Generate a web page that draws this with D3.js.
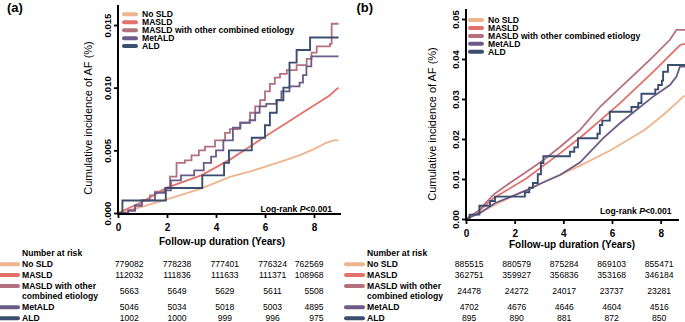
<!DOCTYPE html>
<html><head><meta charset="utf-8">
<script src="https://cdn.jsdelivr.net/npm/d3@7"></script>
<style>
body{margin:0;background:#fff}
svg{display:block}
text{font-family:"Liberation Sans",Arial,Helvetica,sans-serif;fill:#000}
</style>
</head><body>
<svg id="chart" width="685" height="322"></svg>
<script>
// ---------------- data ----------------
const groups = ["No SLD","MASLD","MASLD with other combined etiology","MetALD","ALD"];
const tableLabels = [["No SLD"],["MASLD"],["MASLD with other","combined etiology"],["MetALD"],["ALD"]];
const colors = ["#EDB48E","#E2716C","#B4707E","#6C5A88","#3A4E6E"];
const xTicks = [0,2,4,6,8];
const yTicksA = [0,0.005,0.010,0.015];
const yTicksB = [0,0.01,0.02,0.03,0.04,0.05];
const riskTimes = [0,2,4,6,8];
const panelLabels = ["(a)","(b)"];
const pText = "Log-rank ";

// Panel (a) cumulative incidence, [years, value]
const aNoSLD = [[0,0],[1,0.0005],[1.93,0.00104],[3.33,0.0019],[4.6,0.0029],[5.37,0.0033],[6.5,0.0040],[7.4,0.0046],[8.0,0.0051],[8.5,0.0056],[8.8,0.0058],[9.0,0.0058]];
const aMASLD = [[0,0],[1,0.0009],[1.97,0.0020],[3.4,0.0030],[4.6,0.0043],[5.93,0.0060],[7.29,0.0077],[8.65,0.0094],[8.93,0.0099],[9.0,0.0100]];
const aOther = [[0,0],[0.42,0.0002],[0.7,0.0006],[0.97,0.0010],[1.3,0.0014],[1.51,0.0017],[1.92,0.0020],[2.12,0.0029],[2.39,0.0040],[2.73,0.0042],[3.0,0.0046],[3.3,0.0050],[3.55,0.0053],[3.96,0.0058],[4.37,0.0064],[4.57,0.0067],[4.98,0.0072],[5.39,0.0080],[5.6,0.0085],[5.8,0.0090],[6.0,0.0097],[6.2,0.0103],[6.4,0.0108],[6.61,0.0111],[6.89,0.0114],[7.29,0.0118],[7.7,0.0123],[7.9,0.0128],[8.11,0.0133],[8.65,0.0135],[8.72,0.0151],[9.0,0.0151]];
const aMetALD = [[0,0],[0.42,0.0002],[0.7,0.0006],[0.97,0.0010],[1.51,0.0016],[1.92,0.0018],[2.16,0.0026],[2.57,0.0030],[3.11,0.0034],[3.5,0.0040],[3.8,0.0045],[4.0,0.0050],[4.3,0.0058],[4.69,0.0068],[5.0,0.0072],[5.37,0.0074],[5.6,0.0080],[5.78,0.0085],[6.05,0.0087],[6.46,0.0090],[6.67,0.0097],[7.0,0.0101],[7.41,0.0104],[7.55,0.0110],[7.69,0.0117],[7.89,0.0125],[9.0,0.0125]];
const aALD = [[0,0],[0.18,0.001],[1.95,0.002],[3.44,0.003],[4.33,0.004],[4.53,0.005],[5.46,0.006],[6.0,0.007],[6.2,0.008],[6.48,0.009],[6.75,0.010],[7.0,0.012],[7.29,0.013],[7.84,0.014],[9.0,0.014]];

// Panel (b)
const bNoSLD = [[0,0],[0.92,0.0027],[1.88,0.0056],[3.24,0.0093],[4.61,0.0131],[5.98,0.0173],[7.35,0.0223],[8.2,0.0265],[8.95,0.0307],[9.0,0.0308]];
const bMASLD = [[0,0],[0.5,0.0018],[1.13,0.0052],[2.49,0.0102],[3.86,0.0164],[4.82,0.0210],[6.32,0.0289],[7.69,0.0368],[8.8,0.0435],[9.0,0.0438]];
const bOther = [[0,0],[0.5,0.0020],[1.13,0.0061],[1.8,0.0090],[2.49,0.0118],[3.2,0.0148],[3.86,0.0180],[4.68,0.0222],[5.5,0.0280],[6.32,0.0327],[7.0,0.0366],[7.69,0.0406],[8.38,0.0448],[8.65,0.0473],[9.0,0.0473]];
const bMetALD = [[0,0],[0.58,0.0015],[1.2,0.0040],[1.81,0.0055],[2.5,0.0072],[3.18,0.0092],[3.86,0.0110],[4.68,0.0141],[5.64,0.0202],[6.3,0.0238],[7.01,0.0273],[7.69,0.0306],[8.38,0.0335],[8.65,0.0356],[8.79,0.0381],[9.0,0.0381]];
const bALD = [[0,0],[0.15,0.0011],[0.55,0.0033],[0.99,0.0045],[1.19,0.0056],[2.42,0.0067],[2.6,0.0078],[2.75,0.0090],[2.95,0.0112],[3.08,0.0140],[3.18,0.0157],[4.27,0.0168],[4.45,0.0179],[4.6,0.0202],[5.4,0.0213],[5.5,0.0235],[5.6,0.0246],[5.91,0.0268],[6.8,0.0280],[7.08,0.0290],[7.21,0.0313],[7.78,0.0324],[7.9,0.0335],[8.05,0.0346],[8.1,0.0368],[8.3,0.0385],[9.0,0.0385]];

// Number at risk
const riskA = [[779082,778238,777401,776324,762569],[112032,111836,111633,111371,108968],[5663,5649,5629,5611,5508],[5046,5034,5018,5003,4895],[1002,1000,999,996,975]];
const riskB = [[885515,880579,875284,869103,855471],[362751,359927,356836,353168,346184],[24478,24272,24017,23737,23281],[4702,4676,4646,4604,4516],[895,890,881,872,850]];

// ---------------- layout ----------------
const panels = [
  {label: panelLabels[0], labelX: 7, series:[aNoSLD,aMASLD,aOther,aMetALD,aALD], steps:[false,false,true,true,true],
   x0:118, x1:338.5, yZero:213, yTopVal:0.015, yTopPx:25, axisTop:5, xAxisEnd:341, yTicks:yTicksA, yFmt:".3f",
   yTitleX:92, yTitleY:118, xTitleX:222, xTitleY:245, legX:123, legY:14.3, lrRight:332, lrY:211.5,
   tblLeft:0, tblC0:129.2, tblC4:320.4, tblRight:323.5, risk:riskA},
  {label: panelLabels[1], labelX: 356.5, series:[bNoSLD,bMASLD,bOther,bMetALD,bALD], steps:[false,false,false,false,true],
   x0:466, x1:685, yZero:219, yTopVal:0.05, yTopPx:19, axisTop:9, xAxisEnd:679, yTicks:yTicksB, yFmt:".2f",
   yTitleX:436, yTitleY:124, xTitleX:572, xTitleY:247.5, legX:469, legY:20, lrRight:671.5, lrY:213.5,
   tblLeft:345, tblC0:469.2, tblC4:659.2, tblRight:673.5, risk:riskB}
];
const rowY = [264.3, 275, 286, 307.3, 318.3];
const rowNumY = [264.3, 275, 291, 307.3, 318.3];
const FS = 8.6;

const svg = d3.select("#chart");

panels.forEach(p => {
  const g = svg.append("g");
  const x = d3.scaleLinear().domain([0,9]).range([p.x0, p.x1]);
  const y = d3.scaleLinear().domain([0,p.yTopVal]).range([p.yZero, p.yTopPx]);

  // panel label
  g.append("text").attr("x", p.labelX).attr("y", 11.5).attr("font-size", 13).attr("font-weight","bold").text(p.label);

  // curves
  p.series.forEach((s,i) => {
    const line = d3.line().x(d=>x(d[0])).y(d=>y(d[1])).curve(p.steps[i] ? d3.curveStepAfter : d3.curveLinear);
    g.append("path").datum(s).attr("d", line).attr("fill","none")
      .attr("stroke", colors[i]).attr("stroke-width", i===4 ? 1.9 : 1.8).attr("stroke-linejoin","miter");
  });

  // y axis
  const yAx = d3.axisLeft(y).tickValues(p.yTicks).tickFormat(d3.format(p.yFmt)).tickSize(4).tickSizeOuter(0);
  const gy = g.append("g").attr("transform", `translate(${p.x0},0)`).call(yAx);
  gy.select(".domain").remove();
  gy.append("line").attr("x1",0).attr("x2",0).attr("y1", p.yZero+2).attr("y2", p.axisTop).attr("stroke","#000").attr("stroke-width",2);
  gy.selectAll(".tick line").attr("stroke","#000").attr("stroke-width",1.8);
  gy.selectAll(".tick text").attr("x",0).attr("dy",null).attr("y",0)
    .attr("transform","translate(-7,0) rotate(-90)").attr("text-anchor","middle")
    .attr("font-size",9.5).attr("font-weight","bold").attr("font-family",null).attr("fill","#000");

  // x axis
  const xAx = d3.axisBottom(x).tickValues(xTicks).tickFormat(d3.format("d")).tickSize(4).tickPadding(6).tickSizeOuter(0);
  const gx = g.append("g").attr("transform", `translate(0,${p.yZero+1})`).call(xAx);
  gx.select(".domain").remove();
  gx.append("line").attr("x1", p.x0-1).attr("x2", p.xAxisEnd).attr("y1",0).attr("y2",0).attr("stroke","#000").attr("stroke-width",2);
  gx.selectAll(".tick line").attr("stroke","#000").attr("stroke-width",1.8);
  gx.selectAll(".tick text").attr("font-size",10).attr("font-weight","bold").attr("font-family",null).attr("fill","#000");

  // axis titles
  g.append("text").attr("transform", `translate(${p.yTitleX},${p.yTitleY}) rotate(-90)`).attr("text-anchor","middle")
    .attr("font-size",11).text("Cumulative incidence of AF (%)");
  g.append("text").attr("x", p.xTitleX).attr("y", p.xTitleY).attr("text-anchor","middle")
    .attr("font-size",10).attr("font-weight","bold").text("Follow-up duration (Years)");

  // legend
  groups.forEach((name,i) => {
    const ly = p.legY + i*7.95;
    g.append("line").attr("x1", p.legX+1).attr("x2", p.legX+13).attr("y1", ly).attr("y2", ly)
      .attr("stroke", colors[i]).attr("stroke-width", 4).attr("stroke-linecap","round");
    g.append("text").attr("x", p.legX+19).attr("y", ly+3.1).attr("font-size",FS).attr("font-weight","bold").text(name);
  });

  // log-rank
  const lr = g.append("text").attr("x", p.lrRight).attr("y", p.lrY).attr("text-anchor","end")
    .attr("font-size",FS).attr("font-weight","bold");
  lr.append("tspan").text(pText);
  lr.append("tspan").attr("font-style","italic").text("P");
  lr.append("tspan").text("<0.001");

  // risk table
  const tx = d3.scaleLinear().domain([riskTimes[0], riskTimes[riskTimes.length-1]]).range([p.tblC0, p.tblC4]);
  g.append("text").attr("x", p.tblLeft+22).attr("y", 255.8).attr("font-size",FS).attr("font-weight","bold").text("Number at risk");
  tableLabels.forEach((lab,i) => {
    g.append("line").attr("x1", p.tblLeft+1).attr("x2", p.tblLeft+18).attr("y1", rowY[i]).attr("y2", rowY[i])
      .attr("stroke", colors[i]).attr("stroke-width", 4).attr("stroke-linecap","round");
    lab.forEach((t,k) => {
      g.append("text").attr("x", p.tblLeft+22).attr("y", rowY[i]+3.1+k*9.7).attr("font-size",FS).attr("font-weight","bold").text(t);
    });
    riskTimes.forEach((t,j) => {
      const tt = g.append("text").attr("y", rowNumY[i]+3.1).attr("font-size",FS).attr("text-anchor","middle")
        .attr("fill","#222").text(p.risk[i][j]);
      const w = tt.node().getComputedTextLength();
      tt.attr("x", Math.min(tx(t), p.tblRight - w/2));
    });
  });
});
</script>
</body></html>
